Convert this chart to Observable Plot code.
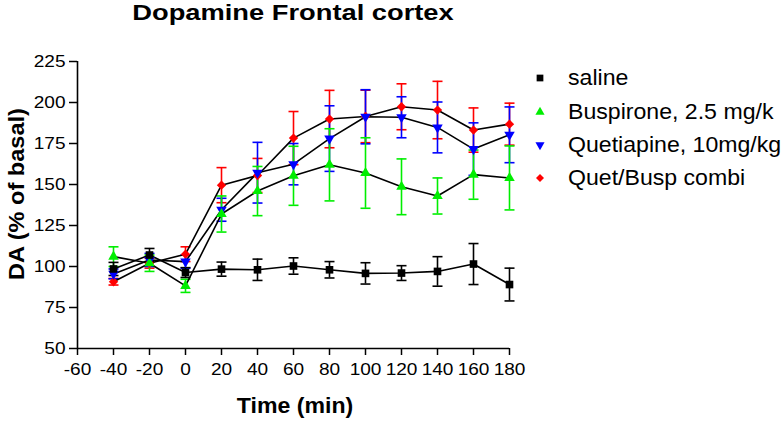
<!DOCTYPE html>
<html><head><meta charset="utf-8">
<script src="https://cdn.jsdelivr.net/npm/d3@7"></script>
<script src="https://cdn.jsdelivr.net/npm/@observablehq/plot@0.6"></script>
<style>
body{margin:0;background:#fff;font-family:"Liberation Sans",Arial,sans-serif;}
#wrap{position:relative;width:784px;height:422px;overflow:hidden;background:#fff;}
.lbl{position:absolute;line-height:1;white-space:nowrap;color:#000;font-size:22px;}
.b{font-weight:bold;}
#plot{position:absolute;left:0;top:0;}
.leg{position:absolute;left:568px;transform-origin:0 50%;transform:scaleX(1.05);}
.legm{position:absolute;width:14px;height:14px;}
</style></head><body>
<div id="wrap">
  <div id="plot"></div>
  <div class="lbl b" id="title" style="left:293px;top:2px;transform:translateX(-50%) scaleX(1.24);">Dopamine Frontal cortex</div>
  <div class="lbl b" id="ylab" style="left:17px;top:193.5px;transform:translate(-50%,-50%) rotate(-90deg) scaleX(1.07);">DA (% of basal)</div>
  <div class="lbl b" id="xlab" style="left:295px;top:395px;transform:translateX(-50%) scaleX(1.05);">Time (min)</div>
</div>
<script>
// ---- data ----
const times = [-40, -20, 0, 20, 40, 60, 80, 100, 120, 140, 160, 180];
const seriesNames = ["saline", "Buspirone, 2.5 mg/k", "Quetiapine, 10mg/kg", "Quet/Busp combi"];
const saline      = [98.5, 107, 96.3, 98.4, 98, 100.3, 98, 95.8, 96, 97, 101.5, 89];
const salineErr   = [4, 4, 3, 4.3, 6.5, 5, 5, 6.5, 4.5, 9, 12.5, 10];
const buspirone   = [106, 102, 88.2, 132, 146, 155.3, 162, 157, 148.6, 143, 156, 154];
const buspErr     = [6, 5, 4, 11, 15, 18, 22, 21.5, 17, 11, 15, 19.5];
const quetiapine  = [95.5, 104, 103, 134.6, 157.2, 162.4, 178, 191.3, 191, 184.8, 171.6, 180.3];
const quetErr     = [3, 4, 4, 7, 18.5, 12.6, 20, 16.5, 12.5, 15.5, 16, 17];
const combi       = [90.7, 102, 107.5, 149.6, 155.5, 178.3, 189.9, 191.5, 197.4, 195.4, 183.2, 186.8];
const combiErr    = [2, 3, 4.5, 10.7, 10.4, 16.2, 17.5, 16, 14, 17.5, 13.5, 12.8];
const xTicks = [-60, -40, -20, 0, 20, 40, 60, 80, 100, 120, 140, 160, 180];
const yTicks = [50, 75, 100, 125, 150, 175, 200, 225];

// ---- styles ----
const seriesValues = [saline, buspirone, quetiapine, combi];
const seriesErrors = [salineErr, buspErr, quetErr, combiErr];
const colors  = ["#000000", "#00ee00", "#0000ff", "#ff0000"];
const symbols = ["square", "triangle", "triangle", "diamond2"];
const radii   = [4.3, 3.9, 3.9, 4.2];
const rotates = [0, 0, 180, 0];
const drawOrder = [3, 2, 1, 0];

const rowsOf = i => times.map((t, j) => ({
  series: seriesNames[i], t, v: seriesValues[i][j],
  lo: seriesValues[i][j] - seriesErrors[i][j],
  hi: seriesValues[i][j] + seriesErrors[i][j]
}));

const cap = {draw(ctx) { ctx.moveTo(-5, 0); ctx.lineTo(5, 0); }};

const marks = [];
for (const i of drawOrder) {
  const rows = rowsOf(i);
  marks.push(Plot.ruleX(rows, {x: "t", y1: "lo", y2: "hi", stroke: colors[i], strokeWidth: 1.6}));
  marks.push(Plot.dot(rows, {x: "t", y: "lo", symbol: cap, stroke: colors[i], strokeWidth: 1.6, r: 3}));
  marks.push(Plot.dot(rows, {x: "t", y: "hi", symbol: cap, stroke: colors[i], strokeWidth: 1.6, r: 3}));
}
for (const i of drawOrder) {
  marks.push(Plot.line(rowsOf(i), {x: "t", y: "v", stroke: "#000", strokeWidth: 1.6}));
}
for (const i of drawOrder) {
  marks.push(Plot.dot(rowsOf(i), {x: "t", y: "v", symbol: symbols[i], fill: colors[i], stroke: "none", r: radii[i], rotate: rotates[i]}));
}
marks.push(Plot.ruleX([-60], {stroke: "#000", strokeWidth: 1.6}));
marks.push(Plot.ruleY([50], {stroke: "#000", strokeWidth: 1.6}));
marks.push(Plot.axisX({ticks: xTicks, tickSize: 7, tickPadding: 8, fontSize: 16, label: null, strokeWidth: 1.5, tickFormat: d => String(d)}));
marks.push(Plot.axisY({ticks: yTicks, tickSize: 8, tickPadding: 4, fontSize: 16, label: null, strokeWidth: 1.5, tickFormat: d => String(d)}));

const chart = Plot.plot({
  width: 784, height: 422,
  marginLeft: 77, marginRight: 275, marginTop: 61, marginBottom: 74,
  x: {domain: [-60, 180]},
  y: {domain: [50, 225]},
  style: {fontFamily: "'Liberation Sans', Arial, sans-serif", fontSize: "16px", color: "#000", background: "transparent"},
  marks
});
document.getElementById("plot").appendChild(chart);

// widen tick labels to match the reference's wide digits
chart.querySelectorAll("text").forEach(t => {
  const w = t.getComputedTextLength();
  if (w > 0) {
    t.setAttribute("textLength", (w * 1.19).toFixed(2));
    t.setAttribute("lengthAdjust", "spacingAndGlyphs");
  }
});

// ---- legend ----
const wrap = document.getElementById("wrap");
const legendRows = [78, 111.5, 145, 177.5];
const legendR = [3.8, 3.4, 3.4, 3.6];
seriesNames.forEach((name, i) => {
  const cy = legendRows[i];
  const m = document.createElementNS("http://www.w3.org/2000/svg", "svg");
  m.setAttribute("class", "legm");
  m.setAttribute("width", 14); m.setAttribute("height", 14);
  m.style.left = (540 - 7) + "px";
  m.style.top = (cy - 7) + "px";
  const symMap = {square: d3.symbolSquare, triangle: d3.symbolTriangle, diamond2: d3.symbolDiamond2};
  const p = document.createElementNS("http://www.w3.org/2000/svg", "path");
  p.setAttribute("d", d3.symbol(symMap[symbols[i]], Math.PI * legendR[i] * legendR[i])());
  p.setAttribute("fill", colors[i]);
  p.setAttribute("transform", `translate(7,7) rotate(${rotates[i]})`);
  m.appendChild(p);
  wrap.appendChild(m);
  const d = document.createElement("div");
  d.className = "lbl leg";
  d.style.top = (cy - 11) + "px";
  d.textContent = name;
  wrap.appendChild(d);
});
</script>
</body></html>
